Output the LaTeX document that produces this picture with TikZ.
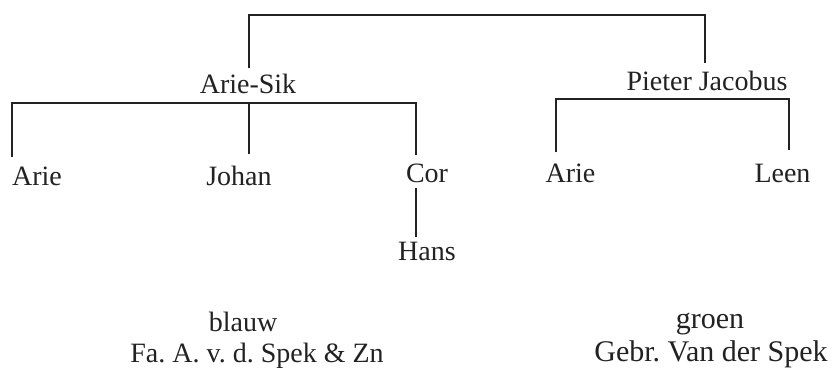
\documentclass[tikz,border=0pt]{standalone}
\usepackage{fontspec}
\setmainfont{Liberation Serif}
\definecolor{ink}{HTML}{222222}
\begin{document}
\frenchspacing
\begin{tikzpicture}[x=1pt,y=-1pt,
  person/.style={anchor=base,inner sep=0pt,text=ink,font=\fontsize{28}{30}\selectfont\frenchspacing},
  big/.style={person,font=\fontsize{30}{32}\selectfont\frenchspacing},
  link/.style={draw=ink,line width=2pt}]
\useasboundingbox[fill=white] (0,0) rectangle (833,368);
% people
\node[person] (ariesik) at (248,93) {Arie-Sik};
\node[person] (pieter) at (707,90) {Pieter Jacobus};
\node[person] (arie1) at (37,185) {Arie};
\node[person] (johan) at (239,185) {Johan};
\node[person] (cor) at (427,182) {Cor};
\node[person] (arie2) at (570.5,182) {Arie};
\node[person] (leen) at (782.5,182) {Leen};
\node[person] (hans) at (427,260) {Hans};
% legends
\node[person] (blauw) at (243,331) {blauw};
\node[person] (fa) at (257,362) {Fa. A. v. d. Spek \& Zn};
\node[big] (groen) at (710,328) {groen};
\node[big] (gebr) at (711,361) {Gebr. Van der Spek};
% junction coordinates
\coordinate (top) at (0,15);
\coordinate (lbar) at (0,103);
\coordinate (rbar) at (0,99);
% anchor points of the connectors
\coordinate (pAS) at ([xshift=1pt,yshift=5pt]ariesik.north);
\coordinate (pPJ) at ([xshift=-2pt,yshift=7pt]pieter.north);
\coordinate (pA1) at ([xshift=-25pt,yshift=9pt]arie1.north);
\coordinate (pJo) at ([xshift=10pt,yshift=11pt]johan.north);
\coordinate (pCo) at ([xshift=-11pt,yshift=8pt]cor.north);
\coordinate (pA2) at ([xshift=-15pt,yshift=11pt]arie2.north);
\coordinate (pLe) at ([xshift=6pt,yshift=13pt]leen.north);
% connectors
\draw[link] (pAS) -- (pAS |- top) -- (pPJ |- top) -- (pPJ);
\draw[link] (pA1) -- (pA1 |- lbar) -- (pCo |- lbar) -- (pCo);
\draw[link] (pJo) -- (pJo |- lbar);
\draw[link] (pA2) -- (pA2 |- rbar) -- (pLe |- rbar) -- (pLe);
\draw[link] ([xshift=-11pt,yshift=-6pt]cor.south) -- ([xshift=-11pt,yshift=4pt]hans.north);
\end{tikzpicture}
\end{document}
